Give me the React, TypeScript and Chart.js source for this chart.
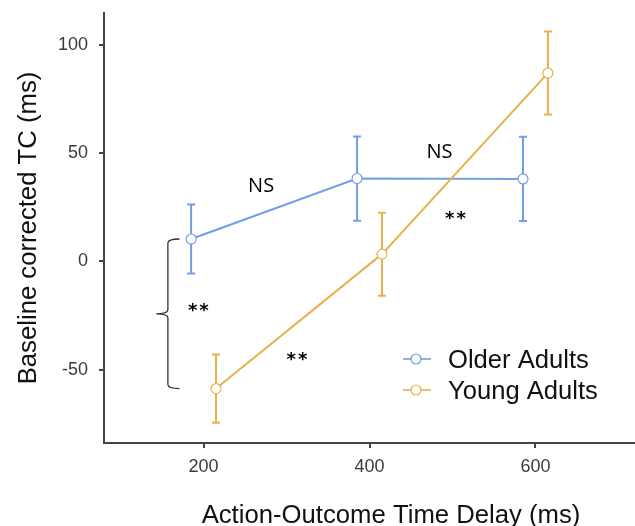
import { useEffect, useRef } from "react";
import { Chart, registerables } from "chart.js";

Chart.register(...registerables);

// ---- data ----
const seriesLabels = ["Older Adults", "Young Adults"];
const olderDelay = [185, 385, 585];
const olderTC = [10.4, 38.4, 38.2];
const olderErr = [16, 19.5, 19.5];
const youngDelay = [215, 415, 615];
const youngTC = [-58.8, 3.4, 87.2];
const youngErr = [15.8, 19.2, 19.2];
const xTicks = [200, 400, 600];
const yTicks = [-50, 0, 50, 100];
const xTitle = "Action-Outcome Time Delay (ms)";
const yTitle = "Baseline corrected TC (ms)";
const noteTexts = ["NS", "NS", "**", "**", "**"];
const noteX = [270, 485, 504, 313, 194];
const noteY = [35.3, 51, 21.4, -43.9, -21.2];

// ---- styles ----
const BLUE = "rgb(116,158,226)";
const ORANGE = "rgb(230,178,74)";
const AXIS = "#444";
const TICK = "#3a3a3a";
const FAMILY = "'Liberation Sans', Arial, Helvetica, sans-serif";
const NOTE_FAMILY = "'Open Sans', 'Liberation Sans', sans-serif";
const STAR_FAMILY = "'DejaVu Sans', sans-serif";

const overlayPlugin = {
  id: "overlay",
  beforeDatasetsDraw(chart: any) {
    const { ctx, scales } = chart;
    const xs = scales.x;
    const ys = scales.y;
    const groups = [
      { x: olderDelay, v: olderTC, e: olderErr, c: BLUE },
      { x: youngDelay, v: youngTC, e: youngErr, c: ORANGE },
    ];
    ctx.save();
    for (const g of groups) {
      ctx.strokeStyle = g.c;
      ctx.lineWidth = 2;
      g.x.forEach((xv, i) => {
        const px = xs.getPixelForValue(xv);
        const top = ys.getPixelForValue(g.v[i] + g.e[i]);
        const bot = ys.getPixelForValue(g.v[i] - g.e[i]);
        ctx.beginPath();
        ctx.moveTo(px, top);
        ctx.lineTo(px, bot);
        ctx.moveTo(px - 4, top);
        ctx.lineTo(px + 4, top);
        ctx.moveTo(px - 4, bot);
        ctx.lineTo(px + 4, bot);
        ctx.stroke();
      });
    }
    ctx.restore();
  },
  afterDraw(chart: any) {
    const { ctx, scales, chartArea } = chart;
    const xs = scales.x;
    const ys = scales.y;
    ctx.save();

    // bracket between the two groups at first delay
    const bx = xs.getPixelForValue(157);
    const armX = xs.getPixelForValue(171);
    const notchX = xs.getPixelForValue(143);
    const yT = ys.getPixelForValue(olderTC[0]);
    const yB = ys.getPixelForValue(youngTC[0]);
    const yM = (yT + yB) / 2;
    const r = 4;
    ctx.strokeStyle = "#333";
    ctx.lineWidth = 1.3;
    ctx.beginPath();
    ctx.moveTo(armX, yT);
    ctx.quadraticCurveTo(bx, yT, bx, yT + r);
    ctx.lineTo(bx, yM - r);
    ctx.quadraticCurveTo(bx, yM, notchX, yM);
    ctx.quadraticCurveTo(bx, yM, bx, yM + r);
    ctx.lineTo(bx, yB - r);
    ctx.quadraticCurveTo(bx, yB, armX, yB);
    ctx.stroke();

    // annotations
    ctx.fillStyle = "#000";
    noteTexts.forEach((t, i) => {
      const isStar = t.indexOf("*") >= 0;
      ctx.font = isStar ? `bold 18px ${STAR_FAMILY}` : `20px ${NOTE_FAMILY}`;
      (ctx as any).letterSpacing = isStar ? "2px" : "0px";
      ctx.textAlign = "left";
      ctx.textBaseline = "alphabetic";
      const m = ctx.measureText(t);
      const w = m.actualBoundingBoxRight + m.actualBoundingBoxLeft;
      const cx = xs.getPixelForValue(noteX[i]);
      const cy = ys.getPixelForValue(noteY[i]);
      const y = cy + (m.actualBoundingBoxAscent - m.actualBoundingBoxDescent) / 2;
      ctx.fillText(t, cx - w / 2 + m.actualBoundingBoxLeft, y);
    });
    (ctx as any).letterSpacing = "0px";

    // legend
    const colors = [BLUE, ORANGE];
    seriesLabels.forEach((lab, i) => {
      const cy = chartArea.top + 346 + i * 31;
      const lx0 = chartArea.left + 299;
      const lx1 = chartArea.left + 327;
      const cx = chartArea.left + 312;
      ctx.strokeStyle = colors[i];
      ctx.lineWidth = 1.6;
      ctx.beginPath();
      ctx.moveTo(lx0, cy);
      ctx.lineTo(lx1, cy);
      ctx.stroke();
      ctx.beginPath();
      ctx.arc(cx, cy, 5, 0, Math.PI * 2);
      ctx.fillStyle = "#fff";
      ctx.fill();
      ctx.lineWidth = 1.2;
      ctx.stroke();
      ctx.fillStyle = "#111";
      ctx.font = `25.6px ${FAMILY}`;
      ctx.textAlign = "left";
      ctx.textBaseline = "alphabetic";
      ctx.fillText(lab, chartArea.left + 344, cy + 9);
    });

    // x axis title
    ctx.fillStyle = "#111";
    ctx.font = `25.7px ${FAMILY}`;
    ctx.textAlign = "center";
    ctx.textBaseline = "alphabetic";
    ctx.fillText(xTitle, (chartArea.left + chartArea.right) / 2 + 21.5, chartArea.bottom + 80);

    ctx.restore();
  },
};

export default function App() {
  const ref = useRef<HTMLCanvasElement | null>(null);

  useEffect(() => {
    const canvas = ref.current;
    if (!canvas) return;
    const mk = (xv: number[], yv: number[]) => xv.map((x, i) => ({ x, y: yv[i] }));
    const chart = new Chart(canvas, {
      type: "line",
      data: {
        datasets: [
          {
            label: seriesLabels[0],
            data: mk(olderDelay, olderTC),
            borderColor: BLUE,
            borderWidth: 2,
            pointRadius: 5,
            pointBackgroundColor: "#fff",
            pointBorderColor: BLUE,
            pointBorderWidth: 1.2,
            tension: 0,
            order: 1,
          },
          {
            label: seriesLabels[1],
            data: mk(youngDelay, youngTC),
            borderColor: ORANGE,
            borderWidth: 2,
            pointRadius: 5,
            pointBackgroundColor: "#fff",
            pointBorderColor: ORANGE,
            pointBorderWidth: 1.2,
            tension: 0,
            order: 0,
          },
        ],
      },
      options: {
        animation: false,
        responsive: true,
        maintainAspectRatio: false,
        layout: { autoPadding: false, padding: { top: 13, left: 0, right: 0, bottom: 0 } },
        plugins: {
          legend: { display: false },
          tooltip: { enabled: false },
          title: { display: false },
        },
        scales: {
          x: {
            type: "linear",
            min: 80,
            max: 720,
            afterBuildTicks: (s: any) => {
              s.ticks = xTicks.map((v) => ({ value: v }));
            },
            afterFit: (s: any) => {
              s.height = 83;
              s.paddingLeft = 0;
              s.paddingRight = 0;
              s.paddingTop = 0;
              s.paddingBottom = 0;
            },
            grid: { drawOnChartArea: false, drawTicks: true, tickLength: 5, color: AXIS, lineWidth: 2 },
            border: { display: true, color: AXIS, width: 2 },
            ticks: {
              color: TICK,
              font: { family: FAMILY, size: 18 },
              padding: 8,
              maxRotation: 0,
              autoSkip: false,
            },
          },
          y: {
            type: "linear",
            min: -84,
            max: 115,
            afterBuildTicks: (s: any) => {
              s.ticks = yTicks.map((v) => ({ value: v }));
            },
            afterFit: (s: any) => {
              s.width = 104;
              s.paddingLeft = 0;
              s.paddingRight = 0;
              s.paddingTop = 0;
              s.paddingBottom = 0;
            },
            grid: { drawOnChartArea: false, drawTicks: true, tickLength: 5, color: AXIS, lineWidth: 2 },
            border: { display: true, color: AXIS, width: 2 },
            ticks: {
              color: TICK,
              font: { family: FAMILY, size: 18 },
              padding: 11,
              autoSkip: false,
            },
            title: {
              display: true,
              text: yTitle,
              color: "#111",
              font: { family: FAMILY, size: 25.7, lineHeight: 1 },
              padding: { top: 16, bottom: 0 },
            },
          },
        },
      },
      plugins: [overlayPlugin],
    } as any);
    return () => chart.destroy();
  }, []);

  return (
    <div style={{ position: "fixed", left: 0, top: 0, width: 635, height: 526 }}>
      <canvas ref={ref} />
    </div>
  );
}
